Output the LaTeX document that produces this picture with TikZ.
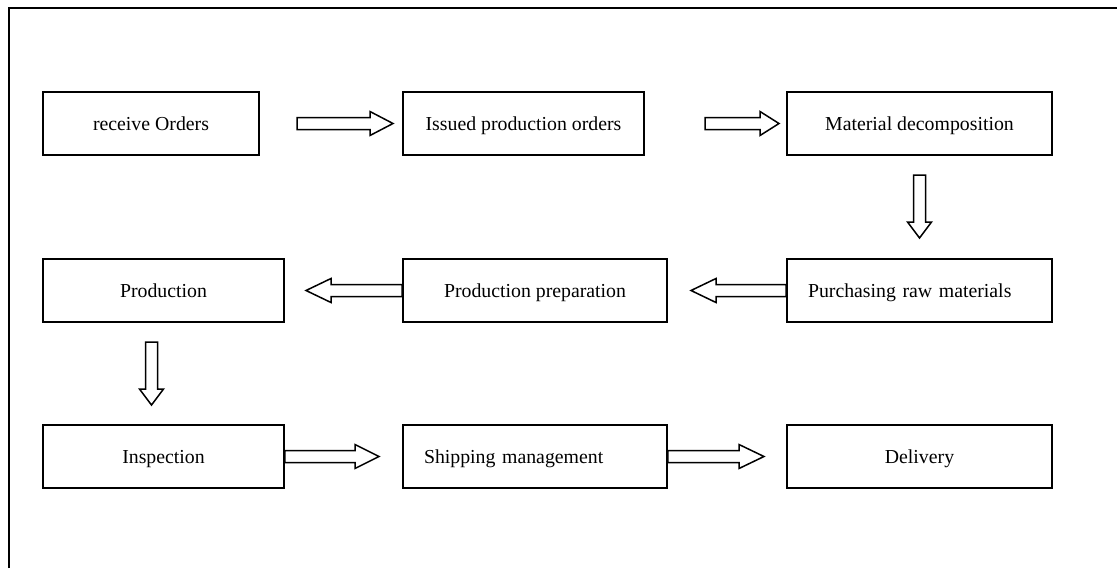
\documentclass[tikz,border=0pt]{standalone}
\usepackage{fontspec}
\setmainfont{Liberation Serif}
\usetikzlibrary{calc}
\usetikzlibrary{positioning}

\tikzset{
	stage/.style={draw,line width=1.8pt,minimum height=63pt,inner sep=0pt,
		text height=14.5pt,text depth=0pt,font=\fontsize{19.8pt}{24pt}\selectfont},
	stageleft/.style={stage,align=left,inner xsep=21pt,text width=#1},
	hollow/.style={draw,line width=1.5pt,to path={
		let \p1=($(\tikztotarget)-(\tikztostart)$),\n1={atan2(\y1,\x1)},\n2={veclen(\x1,\y1)} in
		($(\tikztostart)+(\n1+90:6pt)$)
		-- ($(\tikztostart)+(\n1:\n2-#1)+(\n1+90:6pt)$)
		-- ($(\tikztostart)+(\n1:\n2-#1)+(\n1+90:12pt)$)
		-- (\tikztotarget)
		-- ($(\tikztostart)+(\n1:\n2-#1)+(\n1-90:12pt)$)
		-- ($(\tikztostart)+(\n1:\n2-#1)+(\n1-90:6pt)$)
		-- ($(\tikztostart)+(\n1-90:6pt)$) -- cycle}},
	hollow/.default=23pt
}

\begin{document}
\begin{tikzpicture}[x=1pt,y=-1pt]
		\useasboundingbox (0,0) rectangle (1117,568);
		%print outer frame
		\draw[line width=2pt] (8.5,568)--(8.5,8)--(1117,8);
		%first row
		\node[stage,minimum width=216pt] (recv) at (151,123.5) {receive Orders};
		\node[stage,minimum width=241pt] (issue) at (523.5,123.5) {Issued production orders};
		\node[stage,minimum width=265pt] (mater) at (919.5,123.5) {Material decomposition};
		%second row
		\node[stage,minimum width=241pt] (prod) at (163.5,290.5) {Production};
		\node[stage,minimum width=264pt] (prep) at (535,290.5) {Production preparation};
		\node[stageleft=223pt] (purch) at (919.5,290.5) {Purchasing raw materials};
		%third row
		\node[stage,minimum width=241pt] (insp) at (163.5,456.5) {Inspection};
		\node[stageleft=222pt] (ship) at (535,456.5) {Shipping management};
		\node[stage,minimum width=265pt] (deliv) at (919.5,456.5) {Delivery};
		%free ends of the arrows
		\coordinate (a1) at (297,123.5);
		\coordinate (a2) at (393,123.5);
		\coordinate (b1) at (705,123.5);
		\coordinate (b2) at (779,123.5);
		\coordinate (c1) at (919.5,175);
		\coordinate (c2) at (919.5,238);
		\coordinate (d2) at (691,290.5);
		\coordinate (e2) at (306,290.5);
		\coordinate (f1) at (151.5,342);
		\coordinate (f2) at (151.5,405);
		\coordinate (g2) at (379,456.5);
		\coordinate (h2) at (764,456.5);
		%print hollow arrows
		\draw[hollow] (a1) to (a2);
		\draw[hollow=19pt] (b1) to (b2);
		\draw[hollow=16pt] (c1) to (c2);
		\draw[hollow=25pt] (purch.west) to (d2);
		\draw[hollow=25pt] (prep.west) to (e2);
		\draw[hollow=16pt] (f1) to (f2);
		\draw[hollow=24pt] (insp.east) to (g2);
		\draw[hollow=25pt] (ship.east) to (h2);
	\end{tikzpicture}
\end{document}
